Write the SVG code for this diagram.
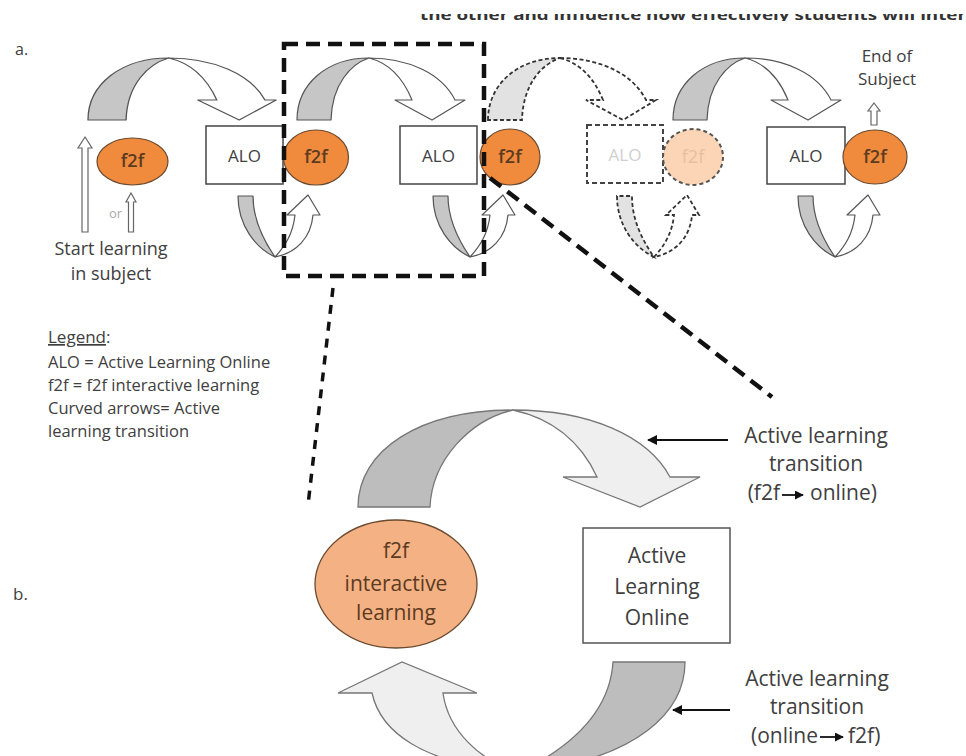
<svg xmlns="http://www.w3.org/2000/svg" width="966" height="756" viewBox="0 0 966 756">
<style>
.t{font-family:"Open Sans","Liberation Sans",sans-serif;fill:#404040}
.gray{fill:#c6c6c6;stroke:#555;stroke-width:1.2;stroke-linejoin:round}
.wht{fill:#fff;stroke:#555;stroke-width:1.2;stroke-linejoin:round}
.dgray{fill:#e2e2e2;stroke:#333;stroke-width:1.8;stroke-dasharray:4 2.5}
.dwht{fill:#fff;stroke:#333;stroke-width:1.8;stroke-dasharray:4 2.5}
.f2f{fill:#F08A3C;stroke:#6b4a30;stroke-width:1.2}
.alo{fill:#fff;stroke:#444;stroke-width:1.5}
.hollow{fill:#fff;stroke:#666;stroke-width:1.2}
.zl{fill:none;stroke:#111;stroke-width:4.5;stroke-dasharray:14 8}
.bgray{fill:#bdbdbd;stroke:#777;stroke-width:1.3}
.bwht{fill:#efefef;stroke:#777;stroke-width:1.3}
.ptr{stroke:#111;stroke-width:2;fill:none}
</style>
<defs>
<g id="topArrow">
<path class="gray" d="M0,0 C0,-36 30,-62 72,-62 C54,-56 35,-36 34,0 Z"/>
<path class="wht" d="M72,-62 C112,-62 145,-46 158,-20 L168,-20 L135,0 L98,-20 L115,-20 C106,-42 92,-57 72,-62 Z"/>
</g>
<g id="topArrowD">
<path class="dgray" d="M0,0 C0,-36 30,-62 72,-62 C54,-56 35,-36 34,0 Z"/>
<path class="dwht" d="M72,-62 C112,-62 145,-46 158,-20 L168,-20 L135,0 L98,-20 L115,-20 C106,-42 92,-57 72,-62 Z"/>
</g>
<g id="lowArrow">
<path class="gray" d="M0,0 C0,30 18,52 37,61 C26,45 15,25 15,0 Z"/>
<path class="wht" d="M37,61 C47,50 55,38 57,19 L49,19 L70,-1 L82,19 L75,19 C73,42 58,57 37,61 Z"/>
</g>
<g id="lowArrowD">
<path class="dgray" d="M0,0 C0,30 18,52 37,61 C26,45 15,25 15,0 Z"/>
<path class="dwht" d="M37,61 C47,50 55,38 57,19 L49,19 L70,-1 L82,19 L75,19 C73,42 58,57 37,61 Z"/>
</g>
<marker id="ah" viewBox="0 0 10 10" refX="9" refY="5" markerWidth="5" markerHeight="5" orient="auto" markerUnits="strokeWidth">
<path d="M0,0 L10,5 L0,10 Z" fill="#111"/>
</marker>
<clipPath id="topclip"><rect x="400" y="14" width="566" height="7"/></clipPath>
</defs>
<rect width="966" height="756" fill="#fff"/>

<g clip-path="url(#topclip)">
<text class="t" x="420" y="19.5" font-size="15" font-weight="bold" textLength="546" lengthAdjust="spacingAndGlyphs" style="fill:#333">the other and influence how effectively students will inter</text>
</g>

<text class="t" x="15" y="55" font-size="16">a.</text>
<text class="t" x="13" y="600" font-size="17">b.</text>

<g id="connectors">
<use href="#topArrow" transform="translate(88,120) scale(1.12,1)"/>
<use href="#topArrow" transform="translate(297,120)"/>
<use href="#topArrowD" transform="translate(488,120)"/>
<use href="#topArrow" transform="translate(673,120)"/>
<use href="#lowArrow" transform="translate(238,196)"/>
<use href="#lowArrow" transform="translate(433,196)"/>
<use href="#lowArrowD" transform="translate(617,196)"/>
<use href="#lowArrow" transform="translate(798,196)"/>
<polygon class="hollow" points="85,137 92,148 88,148 88,232 82,232 82,148 78,148"/>
<polygon class="hollow" points="131,193 136,202 133.5,202 133.5,232 128.5,232 128.5,202 126,202"/>
<polygon class="hollow" points="874,103 880,111 877,111 877,125 871,125 871,111 868,111"/>
<path class="bgray" d="M358,507 C358,450 420,410 513,410 C470,420 432,460 430,507 Z"/>
<path class="bwht" d="M513,410 C590,410 648,436 670,477 L700,477 L640,507 L563,477 L597,477 C580,440 550,418 513,410 Z"/>
<path class="bgray" d="M613,662 L685,662 C685,710 640,760 520,772 C575,745 610,710 613,662 Z"/>
<path class="bwht" d="M520,772 C480,762 448,730 443,693 L477,693 L402,662 L338,693 L372,693 C380,730 420,765 520,772 Z"/>
<line class="ptr" x1="728" y1="440" x2="648" y2="440" marker-end="url(#ah)"/>
<line class="ptr" x1="730" y1="710" x2="673" y2="710" marker-end="url(#ah)"/>
</g>

<g id="start">
<text class="t" x="109" y="218" font-size="13" style="fill:#aaa">or</text>
<text class="t" x="111" y="255" font-size="18" text-anchor="middle">Start learning</text>
<text class="t" x="111" y="280" font-size="18" text-anchor="middle">in subject</text>
</g>
<g id="end">
<text class="t" x="887" y="62" font-size="17" text-anchor="middle">End of</text>
<text class="t" x="887" y="85" font-size="17" text-anchor="middle">Subject</text>
</g>

<g id="f2f1"><ellipse class="f2f" cx="132.5" cy="161.5" rx="35.5" ry="23.5"/><text class="t" x="132.5" y="167" font-size="18" font-weight="600" text-anchor="middle" style="fill:#5b3b22">f2f</text></g>
<g id="alo1"><rect class="alo" x="206" y="126" width="77" height="58"/><text class="t" x="244.5" y="162" font-size="17" text-anchor="middle">ALO</text></g>
<g id="f2f2"><ellipse class="f2f" cx="316" cy="157.5" rx="32.5" ry="27.5"/><text class="t" x="316" y="163" font-size="18" font-weight="600" text-anchor="middle" style="fill:#5b3b22">f2f</text></g>
<g id="alo2"><rect class="alo" x="400" y="126" width="77" height="58"/><text class="t" x="438.5" y="162" font-size="17" text-anchor="middle">ALO</text></g>
<g id="f2f3"><ellipse class="f2f" cx="510" cy="157" rx="30" ry="28"/><text class="t" x="510" y="163" font-size="18" font-weight="600" text-anchor="middle" style="fill:#5b3b22">f2f</text></g>
<g id="alo3"><rect x="587" y="125" width="76" height="58" fill="#fff" stroke="#444" stroke-width="2" stroke-dasharray="5 3"/><text class="t" x="625" y="161" font-size="17" text-anchor="middle" style="fill:#cfcfcf">ALO</text></g>
<g id="f2f4"><ellipse cx="693" cy="157" rx="30" ry="28" fill="#FBD5B5" stroke="#555" stroke-width="2" stroke-dasharray="4 3"/><text class="t" x="693" y="163" font-size="18" text-anchor="middle" style="fill:#e6bf9f">f2f</text></g>
<g id="alo4"><rect class="alo" x="767" y="127" width="78" height="57"/><text class="t" x="806" y="162" font-size="17" text-anchor="middle">ALO</text></g>
<g id="f2f5"><ellipse class="f2f" cx="875" cy="157" rx="32" ry="27"/><text class="t" x="875" y="163" font-size="18" font-weight="600" text-anchor="middle" style="fill:#5b3b22">f2f</text></g>

<g id="legend">
<text class="t" x="48" y="343" font-size="17"><tspan text-decoration="underline">Legend</tspan>:</text>
<text class="t" x="48" y="368" font-size="16.5">ALO = Active Learning Online</text>
<text class="t" x="48" y="391" font-size="16.5">f2f = f2f interactive learning</text>
<text class="t" x="48" y="414" font-size="16.5">Curved arrows= Active</text>
<text class="t" x="48" y="437" font-size="16.5">learning transition</text>
</g>

<g id="f2fB"><ellipse cx="396" cy="584" rx="81" ry="64" fill="#F4B183" stroke="#6b4a30" stroke-width="1.3"/>
<text class="t" x="396" y="558" font-size="21" text-anchor="middle" style="fill:#5b3b22">f2f</text>
<text class="t" x="396" y="591" font-size="21" text-anchor="middle" style="fill:#5b3b22">interactive</text>
<text class="t" x="396" y="620" font-size="21" text-anchor="middle" style="fill:#5b3b22">learning</text></g>
<g id="aloB"><rect x="583" y="528" width="147" height="115" fill="#fff" stroke="#555" stroke-width="1.5"/>
<text class="t" x="657" y="563" font-size="21" text-anchor="middle">Active</text>
<text class="t" x="657" y="594" font-size="21" text-anchor="middle">Learning</text>
<text class="t" x="657" y="625" font-size="21" text-anchor="middle">Online</text></g>

<g id="label1">
<text class="t" x="816" y="443" font-size="21" text-anchor="middle">Active learning</text>
<text class="t" x="816" y="471" font-size="21" text-anchor="middle">transition</text>
<text class="t" x="780" y="500" font-size="21" text-anchor="end">(f2f</text>
<path d="M782,495 L803,495" stroke="#111" stroke-width="1.8" marker-end="url(#ah)"/>
<text class="t" x="810" y="500" font-size="21">online)</text>
</g>
<g id="label2">
<text class="t" x="817" y="686" font-size="21" text-anchor="middle">Active learning</text>
<text class="t" x="817" y="714" font-size="21" text-anchor="middle">transition</text>
<text class="t" x="818" y="743" font-size="21" text-anchor="end">(online</text>
<path d="M820,737 L843,737" stroke="#111" stroke-width="1.8" marker-end="url(#ah)"/>
<text class="t" x="848" y="743" font-size="21">f2f)</text>
</g>

<g id="zoom">
<rect class="zl" x="284" y="44" width="200" height="232"/>
<line class="zl" x1="333" y1="288" x2="308" y2="505" style="stroke-width:3.5;stroke-dasharray:9 8"/>
<line class="zl" x1="490" y1="178" x2="772" y2="397"/>
</g>
</svg>
